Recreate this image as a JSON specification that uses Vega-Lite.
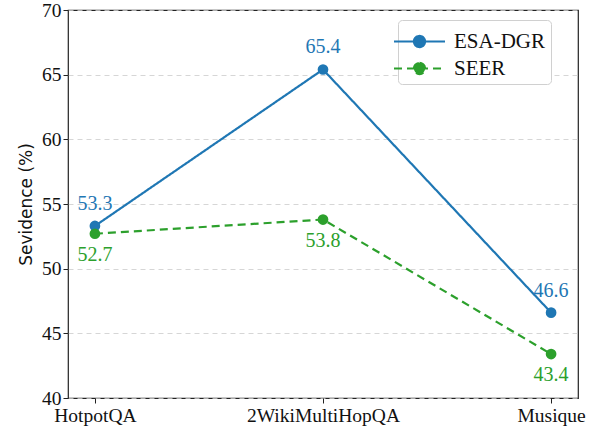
{
  "$schema": "https://vega.github.io/schema/vega-lite/v6.json",
  "width": 510,
  "height": 388,
  "autosize": {"type": "none"},
  "padding": {"left": 68, "top": 10, "right": 15, "bottom": 30},
  "background": "white",
  "config": {
    "font": "Liberation Serif",
    "view": {"stroke": "#222", "strokeWidth": 1.2},
    "axis": {"labelFont": "Liberation Serif", "titleFont": "DejaVu Sans", "labelFontSize": 19.5, "labelColor": "#111", "tickColor": "#222", "domainColor": "#222"},
    "legend": {"labelFont": "Liberation Serif"},
    "text": {"font": "Liberation Serif"}
  },
  "data": {
    "values": [
      {"dataset": "HotpotQA", "method": "ESA-DGR", "value": 53.3},
      {"dataset": "2WikiMultiHopQA", "method": "ESA-DGR", "value": 65.4},
      {"dataset": "Musique", "method": "ESA-DGR", "value": 46.6},
      {"dataset": "HotpotQA", "method": "SEER", "value": 52.7},
      {"dataset": "2WikiMultiHopQA", "method": "SEER", "value": 53.8},
      {"dataset": "Musique", "method": "SEER", "value": 43.4}
    ]
  },
  "encoding": {
    "x": {
      "field": "dataset", "type": "nominal",
      "sort": ["HotpotQA", "2WikiMultiHopQA", "Musique"],
      "scale": {"type": "point", "padding": 0.118},
      "axis": {"title": null, "labelAngle": 0, "grid": false, "tickSize": 5, "labelPadding": 3, "domain": false}
    },
    "y": {
      "field": "value", "type": "quantitative",
      "scale": {"domain": [40, 70], "nice": false, "zero": false},
      "axis": {
        "title": "Sevidence (%)", "titleFontSize": 17, "titleFontWeight": "normal", "titleColor": "#111", "titlePadding": 6,
        "values": [40, 45, 50, 55, 60, 65, 70], "tickSize": 5, "labelPadding": 2, "domain": false,
        "grid": true, "gridDash": [5, 4], "gridColor": "#cccccc", "gridWidth": 0.8
      }
    },
    "color": {
      "field": "method", "type": "nominal",
      "scale": {"domain": ["ESA-DGR", "SEER"], "range": ["#1f77b4", "#2ca02c"]},
      "legend": {
        "title": null, "orient": "none", "legendX": 330, "legendY": 10,
        "labelFontSize": 21, "labelColor": "#111",
        "symbolType": "M-1.7,0H1.7M0,-0.37A0.37,0.37,0,1,1,0,0.37A0.37,0.37,0,1,1,0,-0.37Z",
        "symbolSize": 900, "symbolStrokeWidth": 2.2,
        "rowPadding": 0, "labelOffset": 18,
        "strokeColor": "#d0d0d0", "cornerRadius": 4, "padding": 5, "fillColor": "white",
        "encode": {"symbols": {"update": {
          "fill": {"scale": "color", "field": "value"},
          "strokeDash": {"scale": "strokeDash", "field": "value"}
        }}}
      }
    }
  },
  "layer": [
    {
      "mark": {"type": "line", "strokeWidth": 2.2},
      "encoding": {
        "strokeDash": {
          "field": "method", "type": "nominal",
          "scale": {"domain": ["ESA-DGR", "SEER"], "range": [[1, 0], [8, 5]]},
          "legend": null
        }
      }
    },
    {
      "mark": {"type": "point", "filled": true, "size": 115, "opacity": 1}
    },
    {
      "transform": [{"filter": "datum.method === 'ESA-DGR'"}],
      "mark": {"type": "text", "dy": -22, "fontSize": 20},
      "encoding": {"text": {"field": "value", "type": "quantitative", "format": ".1f"}}
    },
    {
      "transform": [{"filter": "datum.method === 'SEER'"}],
      "mark": {"type": "text", "dy": 21, "fontSize": 20},
      "encoding": {"text": {"field": "value", "type": "quantitative", "format": ".1f"}}
    }
  ]
}
